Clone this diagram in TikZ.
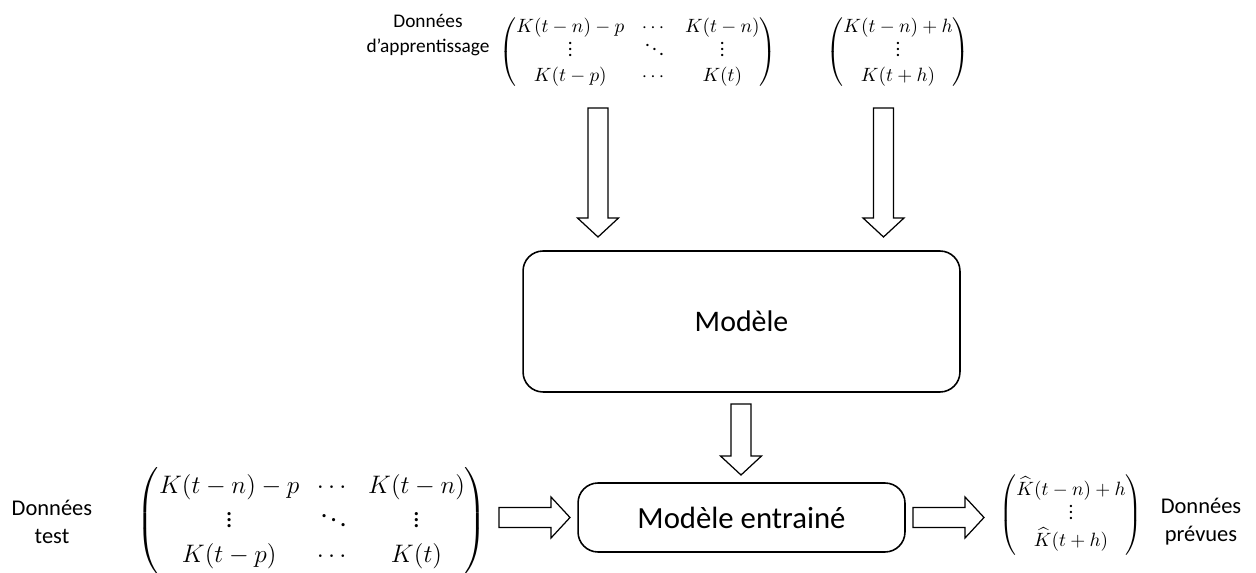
\documentclass[tikz,border=0pt]{standalone}
\usepackage{amsmath}
\usepackage{fontspec}
\setmainfont{Carlito}
\usetikzlibrary{calc,positioning}

% short dots, like the ones of the reference
\newcommand{\svdots}{\vbox{\baselineskip3.5pt\lineskiplimit0pt\hbox{.}\hbox{.}\hbox{.}}}
\newcommand{\sddots}{\mathinner{\mkern1mu\raise6pt\hbox{.}\mkern2mu\raise3.5pt\hbox{.}\mkern2mu\raise1pt\hbox{.}\mkern1mu}}

\tikzset{
  box/.style={draw, line width=0.9pt, rounded corners=0.4cm},
  txt/.style={align=center, inner sep=0pt},
  smallmat/.style={inner sep=0pt, font=\fontsize{11}{14.2}\selectfont},
  bigmat/.style={inner sep=0pt, font=\fontsize{15}{19.5}\selectfont},
  fatarrow/.style={line width=0.7pt, to path={
    ($(\tikztostart)!0.2cm!90:(\tikztotarget)$)
    -- ($(\tikztotarget)!0.38cm!(\tikztostart)!0.2cm!90:(\tikztotarget)$)
    -- ($(\tikztotarget)!0.38cm!(\tikztostart)!0.41cm!90:(\tikztotarget)$)
    -- (\tikztotarget)
    -- ($(\tikztotarget)!0.38cm!(\tikztostart)!0.41cm!-90:(\tikztotarget)$)
    -- ($(\tikztotarget)!0.38cm!(\tikztostart)!0.2cm!-90:(\tikztotarget)$)
    -- ($(\tikztostart)!0.2cm!-90:(\tikztotarget)$) -- cycle}}
}

\begin{document}
\begin{tikzpicture}[x=0.02cm, y=-0.02cm]
  \useasboundingbox (0,0) rectangle (1256,573);

  % texts
  \begin{scope}[every node/.style={txt}]
    \node[font=\fontsize{11}{14}\selectfont] (trainlbl) at (428,35) {Données\\d'apprentissage};
    \node[font=\fontsize{12.8}{16}\selectfont] (testlbl)  at (52,522) {Données\\test};
    \node[font=\fontsize{12.8}{16}\selectfont] (predlbl)  at (1201,522) {Données\\prévues};
  \end{scope}

  % data
  \node[smallmat] (trainX) at (638,52)
    {$\begin{pmatrix} K(t-n)-p & \cdots & K(t-n)\\ \svdots & \sddots & \svdots\\ K(t-p) & \cdots & K(t)\end{pmatrix}$};
  \node[smallmat] (trainY) at (898,52)
    {$\begin{pmatrix} K(t-n)+h\\ \svdots\\ K(t+h)\end{pmatrix}$};
  \node[bigmat] (testX) at (312,521)
    {$\begin{pmatrix} K(t-n)-p & \cdots & K(t-n)\\ \svdots & \sddots & \svdots\\ K(t-p) & \cdots & K(t)\end{pmatrix}$};
  \node[smallmat] (predY) at (1071,515)
    {$\begin{pmatrix} \widehat{K}(t-n)+h\\ \svdots\\ \widehat{K}(t+h)\end{pmatrix}$};

  % models
  \node[box, minimum width=8.74cm, minimum height=2.82cm, font=\fontsize{17}{20}\selectfont] (model) at (741.5,321.5) {Modèle};
  \node[box, minimum width=6.54cm, minimum height=1.38cm, font=\fontsize{17.5}{20}\selectfont] (trained) at (741.5,517.5) {Modèle entrainé};

  % arrow ends
  \coordinate (inXs) at (598,108);
  \coordinate (inXe) at (598,237);
  \coordinate (inYs) at (883.5,108);
  \coordinate (inYe) at (883.5,237);
  \coordinate (fitS) at (741,404);
  \coordinate (fitE) at (741,475);
  \coordinate (testS) at (499,517.5);
  \coordinate (testE) at (570,517.5);
  \coordinate (predS) at (913,517.5);
  \coordinate (predE) at (984,517.5);

  \draw[fatarrow] (inXs) to (inXe);
  \draw[fatarrow] (inYs) to (inYe);
  \draw[fatarrow] (fitS) to (fitE);
  \draw[fatarrow] (testS) to (testE);
  \draw[fatarrow] (predS) to (predE);

\end{tikzpicture}
\end{document}
